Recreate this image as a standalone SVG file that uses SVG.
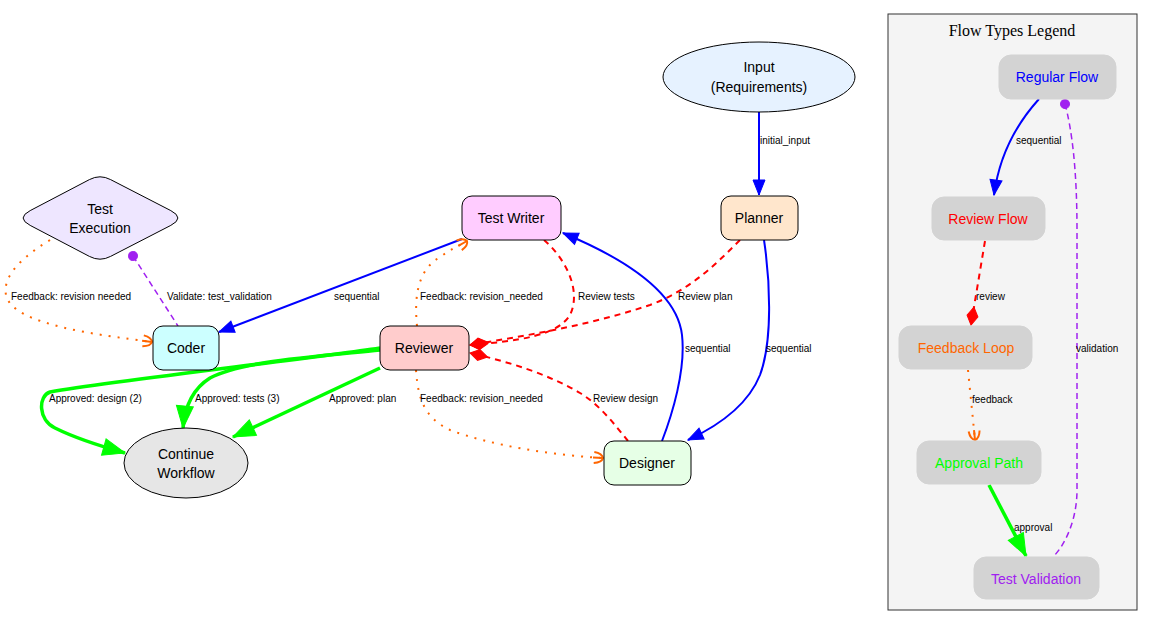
<svg xmlns="http://www.w3.org/2000/svg" width="1152" height="625" viewBox="0 0 1152 625">
<style>
  .node { stroke: #000; stroke-width: 1; }
  .nt { font-family: "Liberation Sans", Arial, sans-serif; font-size: 14px; text-anchor: middle; fill: #000; }
  .el { font-family: "Liberation Sans", Arial, sans-serif; font-size: 10px; fill: #000; }
  .blue { fill: none; stroke: #0000ff; stroke-width: 2; }
  .green { fill: none; stroke: #00ff00; stroke-width: 3.5; }
  .red { fill: none; stroke: #ff0000; stroke-width: 2; stroke-dasharray: 6,5; }
  .orange { fill: none; stroke: #ff6600; stroke-width: 2; stroke-dasharray: 2,7; }
  .purple { fill: none; stroke: #a020f0; stroke-width: 1.5; stroke-dasharray: 6,4; }
  .lg { fill: #d3d3d3; stroke: #d3d3d3; }
  .lt { font-family: "Liberation Sans", Arial, sans-serif; font-size: 14px; text-anchor: middle; }
</style>
<defs>
  <marker id="ab" markerUnits="userSpaceOnUse" markerWidth="16" markerHeight="13" refX="15" refY="6" orient="auto" overflow="visible">
    <path d="M0,0 L15,6 L0,12 Z" fill="#0000ff" stroke="#0000ff" stroke-width="1"/>
  </marker>
  <marker id="ag" markerUnits="userSpaceOnUse" markerWidth="23" markerHeight="18" refX="22" refY="8.5" orient="auto" overflow="visible">
    <path d="M0,0 L22,8.5 L0,17 Z" fill="#00ff00" stroke="#00ff00" stroke-width="1"/>
  </marker>
  <marker id="dia" markerUnits="userSpaceOnUse" markerWidth="19" markerHeight="12" refX="18" refY="5.5" orient="auto" overflow="visible">
    <path d="M0,5.5 L9,0 L18,5.5 L9,11 Z" fill="#ff0000" stroke="#ff0000" stroke-width="1"/>
  </marker>
  <marker id="dot" markerUnits="userSpaceOnUse" markerWidth="10" markerHeight="10" refX="5" refY="5" orient="auto" overflow="visible">
    <circle cx="5" cy="5" r="4.5" fill="#a020f0" stroke="#a020f0"/>
  </marker>
  <marker id="cv" markerUnits="userSpaceOnUse" markerWidth="12" markerHeight="14" refX="10" refY="7" orient="auto" overflow="visible">
    <path d="M1,1.5 Q9,2.5 10,7 Q9,11.5 1,12.5" fill="none" stroke="#ff6600" stroke-width="2"/>
    <path d="M0,7 L10,7" stroke="#ff6600" stroke-width="2"/>
  </marker>
</defs>

<g id="connectors">
  <path class="blue" d="M759,112 L759,195" marker-end="url(#ab)"/>
  <text class="el" x="760" y="144">initial_input</text>

  <path class="blue" d="M764,240 C770,280 773,340 760,375 C748,405 720,425 688,440" marker-end="url(#ab)"/>
  <text class="el" x="766" y="352">sequential</text>

  <path class="blue" d="M662,441 C672,415 686,370 682,335 C678,300 640,265 563,233" marker-end="url(#ab)"/>
  <text class="el" x="685" y="352">sequential</text>

  <path class="blue" d="M462,239 L219,332" marker-end="url(#ab)"/>
  <text class="el" x="334" y="300">sequential</text>

  <path class="orange" d="M50,240 C25,255 2,275 6,295 C12,325 100,335 152,342" marker-end="url(#cv)"/>
  <text class="el" x="11" y="300">Feedback: revision needed</text>

  <path class="purple" d="M133,256 L178,326" marker-start="url(#dot)"/>
  <text class="el" x="167" y="300">Validate: test_validation</text>

  <path class="orange" d="M417,326 C414,295 418,270 440,257 C450,250 458,246 467,241" marker-end="url(#cv)"/>
  <text class="el" x="420" y="300">Feedback: revision_needed</text>

  <path class="red" d="M544,240 C565,258 582,290 570,315 C558,335 520,341 470,345" marker-end="url(#dia)"/>
  <text class="el" x="578" y="300">Review tests</text>

  <path class="red" d="M740,240 C715,265 690,290 650,305 C590,325 530,335 470,345" marker-end="url(#dia)"/>
  <text class="el" x="678" y="300">Review plan</text>

  <path class="red" d="M628,441 C615,425 600,405 580,393 C550,375 510,362 470,353" marker-end="url(#dia)"/>
  <text class="el" x="593" y="402">Review design</text>

  <path class="orange" d="M416,370 C418,400 425,418 450,430 C490,445 550,455 603,458" marker-end="url(#cv)"/>
  <text class="el" x="420" y="402">Feedback: revision_needed</text>

  <path class="green" d="M380,368 L233,437" marker-end="url(#ag)"/>
  <text class="el" x="329" y="402">Approved: plan</text>

  <path class="green" d="M380,350 C300,358 240,362 210,378 C194,388 185,405 183,428" marker-end="url(#ag)"/>
  <text class="el" x="195" y="402">Approved: tests (3)</text>

  <path class="green" d="M380,348 C300,360 120,380 50,392 C38,396 38,420 55,428 C75,438 100,446 125,453" marker-end="url(#ag)"/>
  <text class="el" x="49" y="402">Approved: design (2)</text>
</g>

<g id="input">
  <ellipse class="node" cx="759" cy="77" rx="96" ry="35" fill="#e6f2ff"/>
  <text class="nt" x="759" y="72">Input</text>
  <text class="nt" x="759" y="92">(Requirements)</text>
</g>
<g id="planner">
  <rect class="node" x="721" y="196" width="77" height="44" rx="10" fill="#ffe6cc"/>
  <text class="nt" x="759" y="223">Planner</text>
</g>
<g id="test_writer">
  <rect class="node" x="462" y="196" width="99" height="44" rx="10" fill="#ffccff"/>
  <text class="nt" x="511" y="223">Test Writer</text>
</g>
<g id="reviewer">
  <rect class="node" x="380" y="326" width="89" height="44" rx="10" fill="#ffcccc"/>
  <text class="nt" x="424" y="353">Reviewer</text>
</g>
<g id="coder">
  <rect class="node" x="153" y="326" width="66" height="44" rx="10" fill="#ccffff"/>
  <text class="nt" x="186" y="353">Coder</text>
</g>
<g id="test_execution">
  <path class="node" fill="#eee6ff" d="M30.2,210.6 L89.4,179.6 Q100,174 110.6,179.6 L170.8,210.6 Q185,218 170.8,225.4 L110.6,256.4 Q100,262 89.4,256.4 L30.2,225.4 Q16,218 30.2,210.6 Z"/>
  <text class="nt" x="100" y="214">Test</text>
  <text class="nt" x="100" y="233">Execution</text>
</g>
<g id="continue_workflow">
  <ellipse class="node" cx="186" cy="463" rx="62" ry="35" fill="#e6e6e6"/>
  <text class="nt" x="186" y="459">Continue</text>
  <text class="nt" x="186" y="478">Workflow</text>
</g>
<g id="designer">
  <rect class="node" x="604" y="441" width="87" height="44" rx="10" fill="#e6ffe6"/>
  <text class="nt" x="647" y="468">Designer</text>
</g>

<g id="legend">
  <rect x="888" y="14" width="249" height="596" fill="#f4f4f4" stroke="#333" stroke-width="1"/>
  <text x="1012" y="36" font-family="'Liberation Serif', 'Times New Roman', serif" font-size="16" text-anchor="middle">Flow Types Legend</text>

  <g id="legend_edges">
    <path class="blue" d="M1039,99 C1020,120 1000,150 994,195" marker-end="url(#ab)"/>
    <text class="el" x="1016" y="144">sequential</text>
    <path class="red" d="M985,241 L971,325" marker-end="url(#dia)"/>
    <text class="el" x="976" y="300">review</text>
    <path class="orange" d="M968,370 L975,440" marker-end="url(#cv)"/>
    <text class="el" x="972" y="403">feedback</text>
    <path class="green" d="M989,485 L1026,556" marker-end="url(#ag)"/>
    <text class="el" x="1014" y="531">approval</text>
    <path class="purple" d="M1065,104 C1072,130 1077,170 1077,230 L1077,490 C1077,520 1065,545 1053,557" marker-start="url(#dot)"/>
    <text class="el" x="1076" y="352">validation</text>
  </g>

  <g id="legend_regular">
    <rect class="lg" x="999" y="55" width="117" height="44" rx="12"/>
    <text class="lt" x="1057" y="82" fill="#0000ff">Regular Flow</text>
  </g>
  <g id="legend_review">
    <rect class="lg" x="932" y="197" width="113" height="43" rx="12"/>
    <text class="lt" x="988" y="224" fill="#ff0000">Review Flow</text>
  </g>
  <g id="legend_feedback">
    <rect class="lg" x="899" y="326" width="133" height="43" rx="12"/>
    <text class="lt" x="966" y="353" fill="#ff6600">Feedback Loop</text>
  </g>
  <g id="legend_approval">
    <rect class="lg" x="917" y="441" width="124" height="43" rx="12"/>
    <text class="lt" x="979" y="468" fill="#00ff00">Approval Path</text>
  </g>
  <g id="legend_validation">
    <rect class="lg" x="974" y="557" width="125" height="42" rx="12"/>
    <text class="lt" x="1036" y="584" fill="#a020f0">Test Validation</text>
  </g>
</g>
</svg>
